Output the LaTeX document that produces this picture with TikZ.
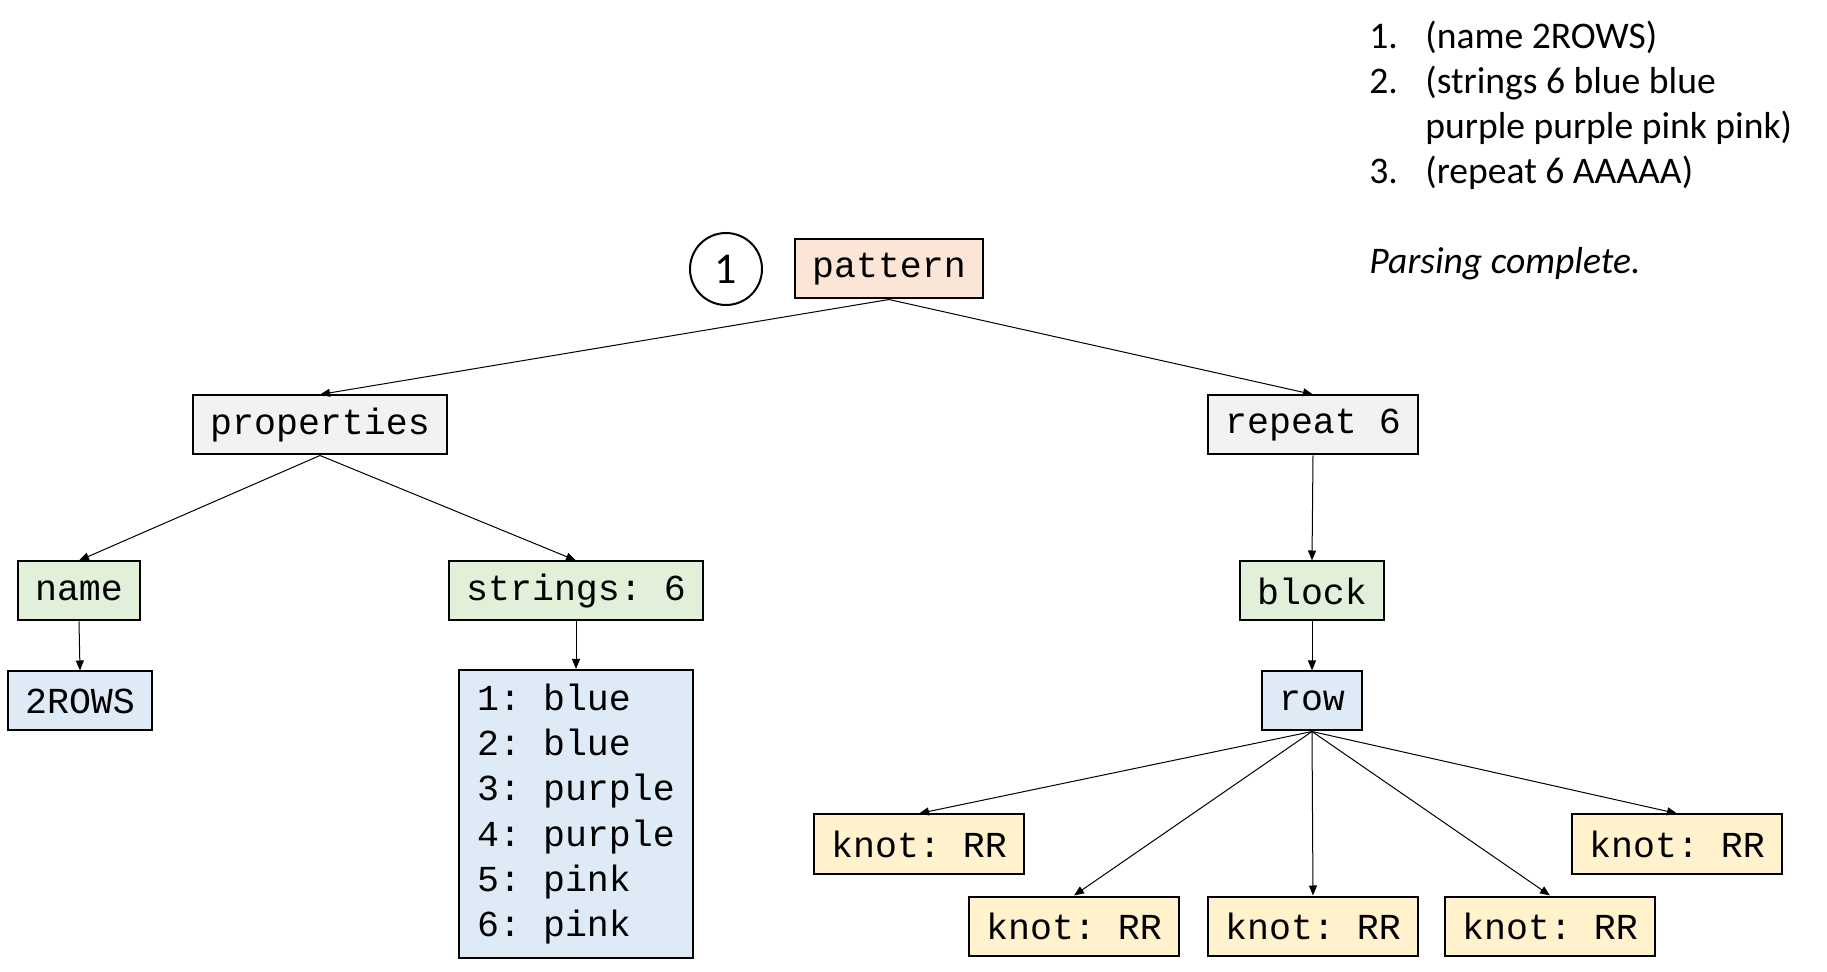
\documentclass[tikz,border=0pt]{standalone}
\usepackage{fontspec}
\setmainfont{Carlito}
\setmonofont{Liberation Mono}
\usetikzlibrary{arrows.meta}

\definecolor{peachbox}{HTML}{FBE5D6}
\definecolor{greybox}{HTML}{F2F2F2}
\definecolor{greenbox}{HTML}{E2F0D9}
\definecolor{bluebox}{HTML}{DEEBF7}
\definecolor{yellowbox}{HTML}{FFF2CC}

\begin{document}
\begin{tikzpicture}[x=0.5pt, y=-0.5pt,
    box/.style={draw, line width=1pt, font=\ttfamily\fontsize{18.3}{22.6}\selectfont,
      inner xsep=8.5pt, inner ysep=3pt, minimum height=29.5pt},
    link/.style={-{Triangle[length=5pt, width=4pt]}, line width=0.5pt},
    note/.style={anchor=base west, inner sep=0pt, font=\fontsize{18.8}{22.4}\selectfont}]
  \useasboundingbox (0,0) rectangle (1827,972);
  \node[box, fill=peachbox] (pattern) at (889,269) {pattern};
  \node[draw, circle, line width=1pt, minimum size=36pt, inner sep=0pt,
    font=\fontsize{22}{26}\selectfont] (step1) at (726,269) {1};
  \node[box, fill=greybox] (properties) at (320,425) {properties};
  \node[box, fill=greybox] (repeat) at (1313,425) {repeat 6};
  \node[box, fill=greenbox] (name) at (79,591) {name};
  \node[box, fill=greenbox] (strings) at (576,591) {strings: 6};
  \node[box, fill=greenbox] (block) at (1312,591) {block};
  \node[box, fill=bluebox] (rows) at (80,701) {2ROWS};
  \node[box, fill=bluebox, align=left, minimum height=144pt, minimum width=117pt] (colours) at (576,814)
    {1: blue\\2: blue\\3: purple\\4: purple\\5: pink\\6: pink};
  \node[box, fill=bluebox] (row) at (1312,701) {row};

  \draw[link] (pattern.south) -- (properties.north);
  \draw[link] (pattern.south) -- (repeat.north);
  \draw[link] (properties.south) -- (name.north);
  \draw[link] (properties.south) -- (strings.north);
  \draw[link] (name.south) -- (rows.north);
  \draw[link] (strings.south) -- (colours.north);
  \draw[link] (repeat.south) -- (block.north);
  \draw[link] (block.south) -- (row.north);

  \foreach \id/\pos in {a/{(919,844)}, b/{(1074,926)}, c/{(1313,926)}, d/{(1550,926)}, e/{(1677,844)}}
  {
    \node[box, fill=yellowbox] (knot\id) at \pos {knot: RR};
    \draw[link] (row.south) -- (knot\id.north);
  }

  \node[note] (steps) at (1369,49)
    {\begin{tabular}[t]{@{}p{28pt}@{}l@{}}
      1. & (name 2ROWS)\\
      2. & (strings 6 blue blue\\
         & purple purple pink pink)\\
      3. & (repeat 6 AAAAA)
    \end{tabular}};
  \node[note, font=\itshape\fontsize{18.8}{22.4}\selectfont] (status) at (1369,274) {Parsing complete.};
\end{tikzpicture}
\end{document}
